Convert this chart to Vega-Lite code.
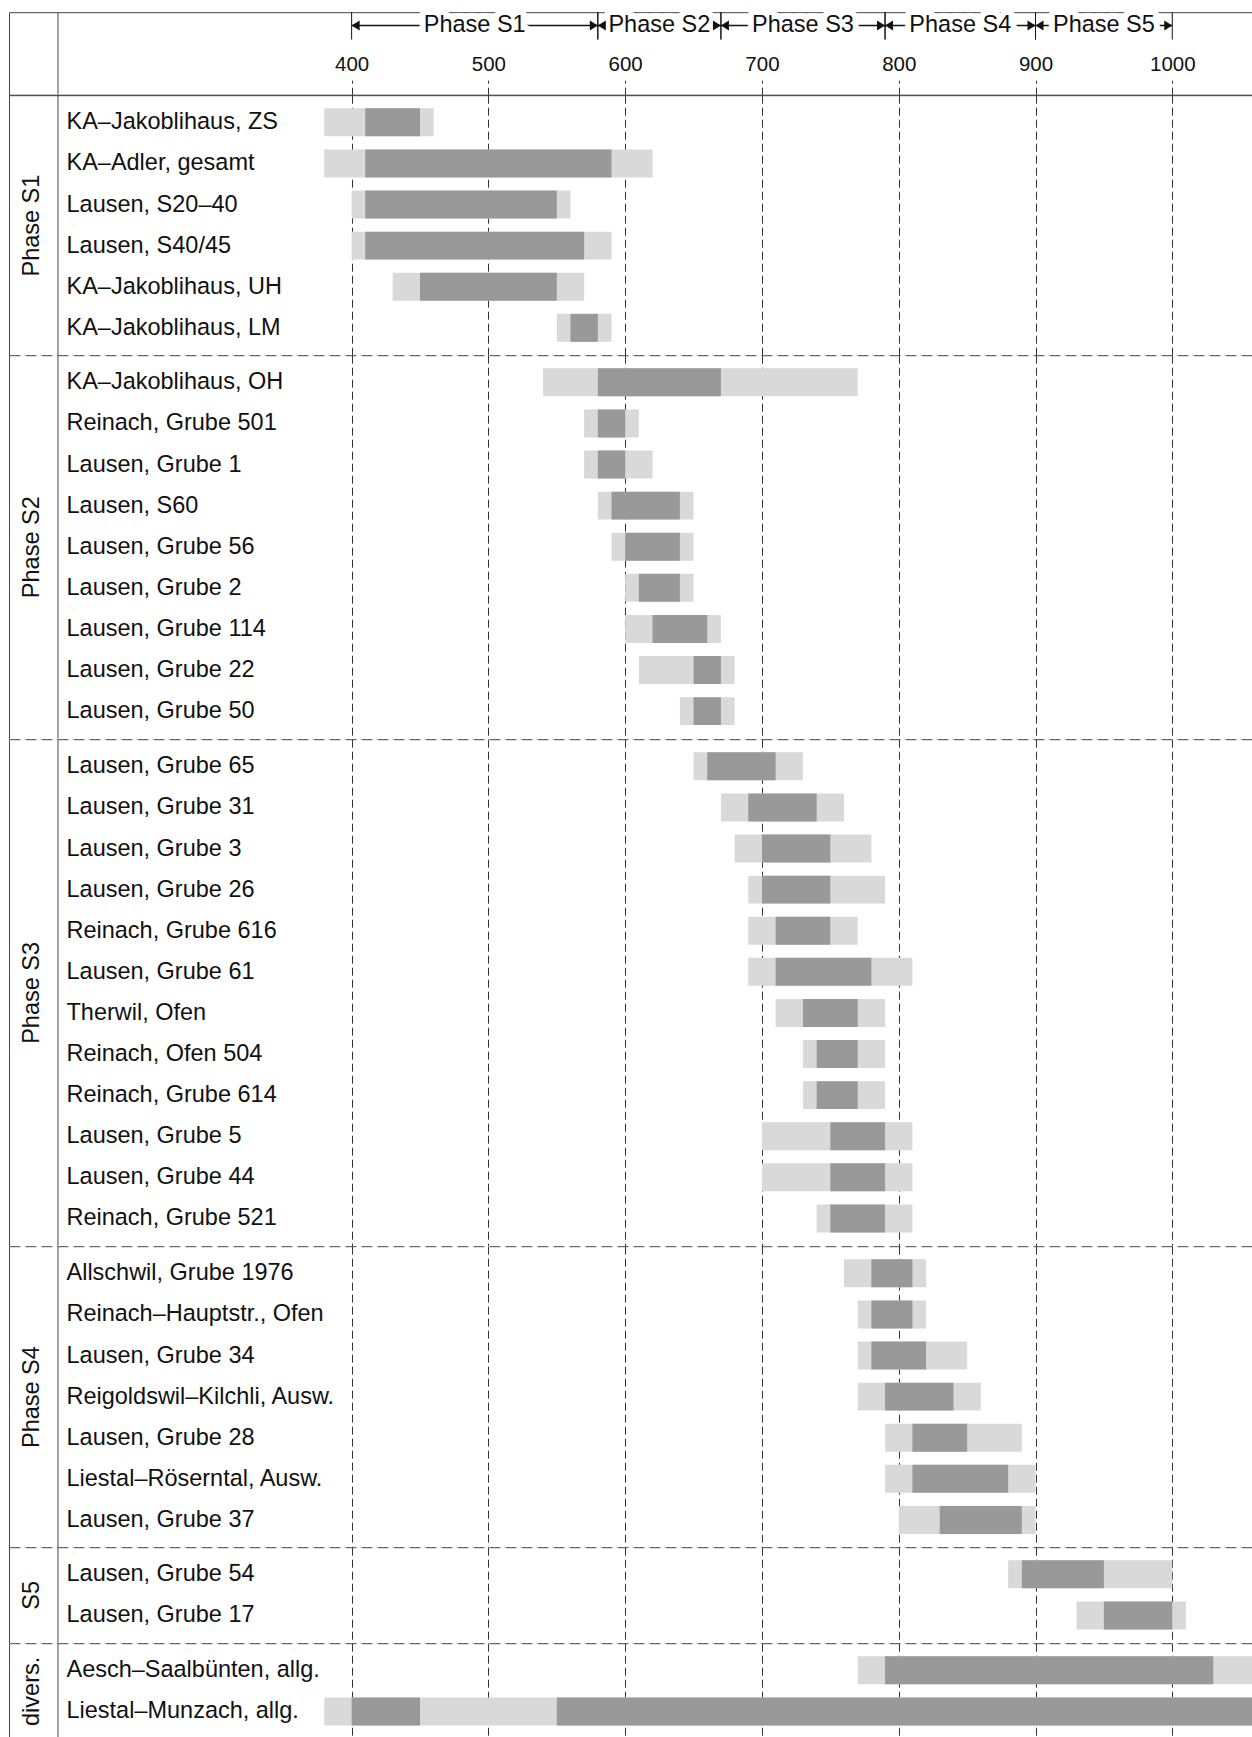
{
  "$schema": "https://vega.github.io/schema/vega-lite/v6.json",
  "padding": {"left": 8, "top": 11.2, "right": 0, "bottom": 0},
  "background": "white",
  "spacing": 0,
  "bounds": "flush",
  "resolve": {"scale": {"x": "independent", "y": "independent"}},
  "config": {"font": "Liberation Sans", "view": {"stroke": null}},
  "datasets": {
    "phases": [
      {"phase": "Phase S1", "start": 400, "end": 580},
      {"phase": "Phase S2", "start": 580, "end": 670},
      {"phase": "Phase S3", "start": 670, "end": 790},
      {"phase": "Phase S4", "start": 790, "end": 900},
      {"phase": "Phase S5", "start": 900, "end": 1000}
    ],
    "bars": [
      {"group": "Phase S1", "site": "KA–Jakoblihaus, ZS", "tone": "light", "start": 380, "end": 460},
      {"group": "Phase S1", "site": "KA–Jakoblihaus, ZS", "tone": "dark", "start": 410, "end": 450},
      {"group": "Phase S1", "site": "KA–Adler, gesamt", "tone": "light", "start": 380, "end": 620},
      {"group": "Phase S1", "site": "KA–Adler, gesamt", "tone": "dark", "start": 410, "end": 590},
      {"group": "Phase S1", "site": "Lausen, S20–40", "tone": "light", "start": 400, "end": 560},
      {"group": "Phase S1", "site": "Lausen, S20–40", "tone": "dark", "start": 410, "end": 550},
      {"group": "Phase S1", "site": "Lausen, S40/45", "tone": "light", "start": 400, "end": 590},
      {"group": "Phase S1", "site": "Lausen, S40/45", "tone": "dark", "start": 410, "end": 570},
      {"group": "Phase S1", "site": "KA–Jakoblihaus, UH", "tone": "light", "start": 430, "end": 570},
      {"group": "Phase S1", "site": "KA–Jakoblihaus, UH", "tone": "dark", "start": 450, "end": 550},
      {"group": "Phase S1", "site": "KA–Jakoblihaus, LM", "tone": "light", "start": 550, "end": 590},
      {"group": "Phase S1", "site": "KA–Jakoblihaus, LM", "tone": "dark", "start": 560, "end": 580},
      {"group": "Phase S2", "site": "KA–Jakoblihaus, OH", "tone": "light", "start": 540, "end": 770},
      {"group": "Phase S2", "site": "KA–Jakoblihaus, OH", "tone": "dark", "start": 580, "end": 670},
      {"group": "Phase S2", "site": "Reinach, Grube 501", "tone": "light", "start": 570, "end": 610},
      {"group": "Phase S2", "site": "Reinach, Grube 501", "tone": "dark", "start": 580, "end": 600},
      {"group": "Phase S2", "site": "Lausen, Grube 1", "tone": "light", "start": 570, "end": 620},
      {"group": "Phase S2", "site": "Lausen, Grube 1", "tone": "dark", "start": 580, "end": 600},
      {"group": "Phase S2", "site": "Lausen, S60", "tone": "light", "start": 580, "end": 650},
      {"group": "Phase S2", "site": "Lausen, S60", "tone": "dark", "start": 590, "end": 640},
      {"group": "Phase S2", "site": "Lausen, Grube 56", "tone": "light", "start": 590, "end": 650},
      {"group": "Phase S2", "site": "Lausen, Grube 56", "tone": "dark", "start": 600, "end": 640},
      {"group": "Phase S2", "site": "Lausen, Grube 2", "tone": "light", "start": 600, "end": 650},
      {"group": "Phase S2", "site": "Lausen, Grube 2", "tone": "dark", "start": 610, "end": 640},
      {"group": "Phase S2", "site": "Lausen, Grube 114", "tone": "light", "start": 600, "end": 670},
      {"group": "Phase S2", "site": "Lausen, Grube 114", "tone": "dark", "start": 620, "end": 660},
      {"group": "Phase S2", "site": "Lausen, Grube 22", "tone": "light", "start": 610, "end": 680},
      {"group": "Phase S2", "site": "Lausen, Grube 22", "tone": "dark", "start": 650, "end": 670},
      {"group": "Phase S2", "site": "Lausen, Grube 50", "tone": "light", "start": 640, "end": 680},
      {"group": "Phase S2", "site": "Lausen, Grube 50", "tone": "dark", "start": 650, "end": 670},
      {"group": "Phase S3", "site": "Lausen, Grube 65", "tone": "light", "start": 650, "end": 730},
      {"group": "Phase S3", "site": "Lausen, Grube 65", "tone": "dark", "start": 660, "end": 710},
      {"group": "Phase S3", "site": "Lausen, Grube 31", "tone": "light", "start": 670, "end": 760},
      {"group": "Phase S3", "site": "Lausen, Grube 31", "tone": "dark", "start": 690, "end": 740},
      {"group": "Phase S3", "site": "Lausen, Grube 3", "tone": "light", "start": 680, "end": 780},
      {"group": "Phase S3", "site": "Lausen, Grube 3", "tone": "dark", "start": 700, "end": 750},
      {"group": "Phase S3", "site": "Lausen, Grube 26", "tone": "light", "start": 690, "end": 790},
      {"group": "Phase S3", "site": "Lausen, Grube 26", "tone": "dark", "start": 700, "end": 750},
      {"group": "Phase S3", "site": "Reinach, Grube 616", "tone": "light", "start": 690, "end": 770},
      {"group": "Phase S3", "site": "Reinach, Grube 616", "tone": "dark", "start": 710, "end": 750},
      {"group": "Phase S3", "site": "Lausen, Grube 61", "tone": "light", "start": 690, "end": 810},
      {"group": "Phase S3", "site": "Lausen, Grube 61", "tone": "dark", "start": 710, "end": 780},
      {"group": "Phase S3", "site": "Therwil, Ofen", "tone": "light", "start": 710, "end": 790},
      {"group": "Phase S3", "site": "Therwil, Ofen", "tone": "dark", "start": 730, "end": 770},
      {"group": "Phase S3", "site": "Reinach, Ofen 504", "tone": "light", "start": 730, "end": 790},
      {"group": "Phase S3", "site": "Reinach, Ofen 504", "tone": "dark", "start": 740, "end": 770},
      {"group": "Phase S3", "site": "Reinach, Grube 614", "tone": "light", "start": 730, "end": 790},
      {"group": "Phase S3", "site": "Reinach, Grube 614", "tone": "dark", "start": 740, "end": 770},
      {"group": "Phase S3", "site": "Lausen, Grube 5", "tone": "light", "start": 700, "end": 810},
      {"group": "Phase S3", "site": "Lausen, Grube 5", "tone": "dark", "start": 750, "end": 790},
      {"group": "Phase S3", "site": "Lausen, Grube 44", "tone": "light", "start": 700, "end": 810},
      {"group": "Phase S3", "site": "Lausen, Grube 44", "tone": "dark", "start": 750, "end": 790},
      {"group": "Phase S3", "site": "Reinach, Grube 521", "tone": "light", "start": 740, "end": 810},
      {"group": "Phase S3", "site": "Reinach, Grube 521", "tone": "dark", "start": 750, "end": 790},
      {"group": "Phase S4", "site": "Allschwil, Grube 1976", "tone": "light", "start": 760, "end": 820},
      {"group": "Phase S4", "site": "Allschwil, Grube 1976", "tone": "dark", "start": 780, "end": 810},
      {"group": "Phase S4", "site": "Reinach–Hauptstr., Ofen", "tone": "light", "start": 770, "end": 820},
      {"group": "Phase S4", "site": "Reinach–Hauptstr., Ofen", "tone": "dark", "start": 780, "end": 810},
      {"group": "Phase S4", "site": "Lausen, Grube 34", "tone": "light", "start": 770, "end": 850},
      {"group": "Phase S4", "site": "Lausen, Grube 34", "tone": "dark", "start": 780, "end": 820},
      {"group": "Phase S4", "site": "Reigoldswil–Kilchli, Ausw.", "tone": "light", "start": 770, "end": 860},
      {"group": "Phase S4", "site": "Reigoldswil–Kilchli, Ausw.", "tone": "dark", "start": 790, "end": 840},
      {"group": "Phase S4", "site": "Lausen, Grube 28", "tone": "light", "start": 790, "end": 890},
      {"group": "Phase S4", "site": "Lausen, Grube 28", "tone": "dark", "start": 810, "end": 850},
      {"group": "Phase S4", "site": "Liestal–Röserntal, Ausw.", "tone": "light", "start": 790, "end": 900},
      {"group": "Phase S4", "site": "Liestal–Röserntal, Ausw.", "tone": "dark", "start": 810, "end": 880},
      {"group": "Phase S4", "site": "Lausen, Grube 37", "tone": "light", "start": 800, "end": 900},
      {"group": "Phase S4", "site": "Lausen, Grube 37", "tone": "dark", "start": 830, "end": 890},
      {"group": "S5", "site": "Lausen, Grube 54", "tone": "light", "start": 880, "end": 1000},
      {"group": "S5", "site": "Lausen, Grube 54", "tone": "dark", "start": 890, "end": 950},
      {"group": "S5", "site": "Lausen, Grube 17", "tone": "light", "start": 930, "end": 1010},
      {"group": "S5", "site": "Lausen, Grube 17", "tone": "dark", "start": 950, "end": 1000},
      {"group": "divers.", "site": "Aesch–Saalbünten, allg.", "tone": "light", "start": 770, "end": 1070},
      {"group": "divers.", "site": "Aesch–Saalbünten, allg.", "tone": "dark", "start": 790, "end": 1030},
      {"group": "divers.", "site": "Liestal–Munzach, allg.", "tone": "light", "start": 380, "end": 1070},
      {"group": "divers.", "site": "Liestal–Munzach, allg.", "tone": "dark", "start": 400, "end": 450},
      {"group": "divers.", "site": "Liestal–Munzach, allg.", "tone": "dark", "start": 550, "end": 1070}
    ]
  },
  "vconcat": [
    {
      "width": 1250,
      "height": 82.5,
      "view": {"stroke": "#444", "strokeWidth": 1},
      "data": {"name": "phases"},
      "layer": [
        {
          "data": {"values": [{}]},
          "mark": {"type": "rule", "color": "#444"},
          "encoding": {"x": {"datum": 185.3, "type": "quantitative", "scale": {"domain": [149.5, 1063.4], "nice": false, "zero": false}, "axis": null}}
        },
        {
          "mark": {"type": "rule", "color": "#111", "strokeWidth": 1.4},
          "encoding": {
            "x": {"field": "start", "type": "quantitative"},
            "x2": {"field": "end"},
            "y": {"datum": 0.839, "type": "quantitative", "scale": {"domain": [0, 1], "nice": false, "zero": false}, "axis": null}
          }
        },
        {
          "transform": [{"fold": ["start", "end"], "as": ["k", "yr"]}],
          "mark": {"type": "text", "fontSize": 23.5, "fill": "white", "stroke": "white", "strokeWidth": 12, "strokeJoin": "round", "baseline": "middle", "align": "center"},
          "encoding": {
            "x": {"aggregate": "mean", "field": "yr", "type": "quantitative"},
            "y": {"datum": 0.839, "type": "quantitative"},
            "text": {"field": "phase"}
          }
        },
        {
          "transform": [{"fold": ["start", "end"], "as": ["k", "yr"]}],
          "mark": {"type": "text", "fontSize": 23.5, "fill": "#111", "baseline": "middle", "align": "center"},
          "encoding": {
            "x": {"aggregate": "mean", "field": "yr", "type": "quantitative"},
            "y": {"datum": 0.839, "type": "quantitative"},
            "text": {"field": "phase"}
          }
        },
        {
          "mark": {"type": "point", "shape": "M0,0L2,-1.25L2,1.25Z", "size": 64, "filled": true, "color": "#111", "opacity": 1, "strokeWidth": 0},
          "encoding": {
            "x": {"field": "start", "type": "quantitative"},
            "y": {"datum": 0.839, "type": "quantitative"}
          }
        },
        {
          "mark": {"type": "point", "shape": "M0,0L-2,-1.25L-2,1.25Z", "size": 64, "filled": true, "color": "#111", "opacity": 1, "strokeWidth": 0},
          "encoding": {
            "x": {"field": "end", "type": "quantitative"},
            "y": {"datum": 0.839, "type": "quantitative"}
          }
        },
        {
          "transform": [{"fold": ["start", "end"], "as": ["k", "yr"]}],
          "mark": {"type": "rule", "color": "#111"},
          "encoding": {
            "x": {"field": "yr", "type": "quantitative"},
            "y": {"datum": 1, "type": "quantitative"},
            "y2": {"datum": 0.669}
          }
        }
      ]
    },
    {
      "width": 1250,
      "height": {"step": 41.1},
      "layer": [
        {
          "data": {"name": "bars"},
          "transform": [{"filter": "datum.group === 'Phase S1'"}],
          "mark": {"type": "bar", "clip": true},
          "encoding": {
            "y": {"field": "site", "type": "nominal", "sort": null, "scale": {"paddingInner": 0.32, "paddingOuter": 0.32},
              "axis": {"title": "Phase S1", "titleX": 22, "titleBaseline": "middle", "titleFontSize": 23.5, "titleFontWeight": "normal", "titleColor": "#111", "domain": true, "domainColor": "#444", "ticks": false, "tickSize": 0, "labelAlign": "left", "labelPadding": -57, "labelFontSize": 23.5, "labelLimit": 600, "labelColor": "#111", "grid": false}},
            "x": {"field": "start", "type": "quantitative", "scale": {"domain": [149.5, 1063.4], "nice": false, "zero": false},
              "axis": {"orient": "top", "title": null, "values": [400, 500, 600, 700, 800, 900, 1000], "format": "d", "labelFontSize": 20.5, "labelColor": "#111", "labelPadding": 6, "ticks": true, "tickSize": 15, "tickDash": [8, 4], "tickColor": "#333", "domain": true, "domainColor": "#444", "grid": true, "gridDash": [8, 4], "gridColor": "#333"}},
            "x2": {"field": "end"},
            "color": {"field": "tone", "type": "nominal", "scale": {"domain": ["light", "dark"], "range": ["#d9d9d9", "#999999"]}, "legend": null}
          }
        },
        {
          "data": {"values": [{}]},
          "mark": {"type": "rule", "color": "#444"},
          "encoding": {"x": {"datum": 185.3, "type": "quantitative"}}
        }
      ]
    },
    {
      "width": 1250,
      "height": {"step": 41.1},
      "layer": [
        {
          "data": {"name": "bars"},
          "transform": [{"filter": "datum.group === 'Phase S2'"}],
          "mark": {"type": "bar", "clip": true},
          "encoding": {
            "y": {"field": "site", "type": "nominal", "sort": null, "scale": {"paddingInner": 0.32, "paddingOuter": 0.32},
              "axis": {"title": "Phase S2", "titleX": 22, "titleBaseline": "middle", "titleFontSize": 23.5, "titleFontWeight": "normal", "titleColor": "#111", "domain": true, "domainColor": "#444", "ticks": false, "tickSize": 0, "labelAlign": "left", "labelPadding": -57, "labelFontSize": 23.5, "labelLimit": 600, "labelColor": "#111", "grid": false}},
            "x": {"field": "start", "type": "quantitative", "scale": {"domain": [149.5, 1063.4], "nice": false, "zero": false},
              "axis": {"orient": "top", "title": null, "values": [400, 500, 600, 700, 800, 900, 1000], "labels": false, "ticks": false, "domain": true, "domainDash": [11, 5], "domainColor": "#444", "grid": true, "gridDash": [8, 4], "gridColor": "#333"}},
            "x2": {"field": "end"},
            "color": {"field": "tone", "type": "nominal", "scale": {"domain": ["light", "dark"], "range": ["#d9d9d9", "#999999"]}, "legend": null}
          }
        },
        {
          "data": {"values": [{}]},
          "mark": {"type": "rule", "color": "#444"},
          "encoding": {"x": {"datum": 185.3, "type": "quantitative"}}
        }
      ]
    },
    {
      "width": 1250,
      "height": {"step": 41.1},
      "layer": [
        {
          "data": {"name": "bars"},
          "transform": [{"filter": "datum.group === 'Phase S3'"}],
          "mark": {"type": "bar", "clip": true},
          "encoding": {
            "y": {"field": "site", "type": "nominal", "sort": null, "scale": {"paddingInner": 0.32, "paddingOuter": 0.32},
              "axis": {"title": "Phase S3", "titleX": 22, "titleBaseline": "middle", "titleFontSize": 23.5, "titleFontWeight": "normal", "titleColor": "#111", "domain": true, "domainColor": "#444", "ticks": false, "tickSize": 0, "labelAlign": "left", "labelPadding": -57, "labelFontSize": 23.5, "labelLimit": 600, "labelColor": "#111", "grid": false}},
            "x": {"field": "start", "type": "quantitative", "scale": {"domain": [149.5, 1063.4], "nice": false, "zero": false},
              "axis": {"orient": "top", "title": null, "values": [400, 500, 600, 700, 800, 900, 1000], "labels": false, "ticks": false, "domain": true, "domainDash": [11, 5], "domainColor": "#444", "grid": true, "gridDash": [8, 4], "gridColor": "#333"}},
            "x2": {"field": "end"},
            "color": {"field": "tone", "type": "nominal", "scale": {"domain": ["light", "dark"], "range": ["#d9d9d9", "#999999"]}, "legend": null}
          }
        },
        {
          "data": {"values": [{}]},
          "mark": {"type": "rule", "color": "#444"},
          "encoding": {"x": {"datum": 185.3, "type": "quantitative"}}
        }
      ]
    },
    {
      "width": 1250,
      "height": {"step": 41.1},
      "layer": [
        {
          "data": {"name": "bars"},
          "transform": [{"filter": "datum.group === 'Phase S4'"}],
          "mark": {"type": "bar", "clip": true},
          "encoding": {
            "y": {"field": "site", "type": "nominal", "sort": null, "scale": {"paddingInner": 0.32, "paddingOuter": 0.32},
              "axis": {"title": "Phase S4", "titleX": 22, "titleBaseline": "middle", "titleFontSize": 23.5, "titleFontWeight": "normal", "titleColor": "#111", "domain": true, "domainColor": "#444", "ticks": false, "tickSize": 0, "labelAlign": "left", "labelPadding": -57, "labelFontSize": 23.5, "labelLimit": 600, "labelColor": "#111", "grid": false}},
            "x": {"field": "start", "type": "quantitative", "scale": {"domain": [149.5, 1063.4], "nice": false, "zero": false},
              "axis": {"orient": "top", "title": null, "values": [400, 500, 600, 700, 800, 900, 1000], "labels": false, "ticks": false, "domain": true, "domainDash": [11, 5], "domainColor": "#444", "grid": true, "gridDash": [8, 4], "gridColor": "#333"}},
            "x2": {"field": "end"},
            "color": {"field": "tone", "type": "nominal", "scale": {"domain": ["light", "dark"], "range": ["#d9d9d9", "#999999"]}, "legend": null}
          }
        },
        {
          "data": {"values": [{}]},
          "mark": {"type": "rule", "color": "#444"},
          "encoding": {"x": {"datum": 185.3, "type": "quantitative"}}
        }
      ]
    },
    {
      "width": 1250,
      "height": {"step": 41.1},
      "layer": [
        {
          "data": {"name": "bars"},
          "transform": [{"filter": "datum.group === 'S5'"}],
          "mark": {"type": "bar", "clip": true},
          "encoding": {
            "y": {"field": "site", "type": "nominal", "sort": null, "scale": {"paddingInner": 0.32, "paddingOuter": 0.32},
              "axis": {"title": "S5", "titleX": 22, "titleBaseline": "middle", "titleFontSize": 23.5, "titleFontWeight": "normal", "titleColor": "#111", "domain": true, "domainColor": "#444", "ticks": false, "tickSize": 0, "labelAlign": "left", "labelPadding": -57, "labelFontSize": 23.5, "labelLimit": 600, "labelColor": "#111", "grid": false}},
            "x": {"field": "start", "type": "quantitative", "scale": {"domain": [149.5, 1063.4], "nice": false, "zero": false},
              "axis": {"orient": "top", "title": null, "values": [400, 500, 600, 700, 800, 900, 1000], "labels": false, "ticks": false, "domain": true, "domainDash": [11, 5], "domainColor": "#444", "grid": true, "gridDash": [8, 4], "gridColor": "#333"}},
            "x2": {"field": "end"},
            "color": {"field": "tone", "type": "nominal", "scale": {"domain": ["light", "dark"], "range": ["#d9d9d9", "#999999"]}, "legend": null}
          }
        },
        {
          "data": {"values": [{}]},
          "mark": {"type": "rule", "color": "#444"},
          "encoding": {"x": {"datum": 185.3, "type": "quantitative"}}
        }
      ]
    },
    {
      "width": 1250,
      "height": {"step": 41.1},
      "layer": [
        {
          "data": {"name": "bars"},
          "transform": [{"filter": "datum.group === 'divers.'"}],
          "mark": {"type": "bar", "clip": true},
          "encoding": {
            "y": {"field": "site", "type": "nominal", "sort": null, "scale": {"paddingInner": 0.32, "paddingOuter": 0.32},
              "axis": {"title": "divers.", "titleX": 22, "titleBaseline": "middle", "titleFontSize": 23.5, "titleFontWeight": "normal", "titleColor": "#111", "domain": true, "domainColor": "#444", "ticks": false, "tickSize": 0, "labelAlign": "left", "labelPadding": -57, "labelFontSize": 23.5, "labelLimit": 600, "labelColor": "#111", "grid": false}},
            "x": {"field": "start", "type": "quantitative", "scale": {"domain": [149.5, 1063.4], "nice": false, "zero": false},
              "axis": {"orient": "top", "title": null, "values": [400, 500, 600, 700, 800, 900, 1000], "labels": false, "ticks": false, "domain": true, "domainDash": [11, 5], "domainColor": "#444", "grid": true, "gridDash": [8, 4], "gridColor": "#333"}},
            "x2": {"field": "end"},
            "color": {"field": "tone", "type": "nominal", "scale": {"domain": ["light", "dark"], "range": ["#d9d9d9", "#999999"]}, "legend": null}
          }
        },
        {
          "data": {"values": [{}]},
          "mark": {"type": "rule", "color": "#444"},
          "encoding": {"x": {"datum": 185.3, "type": "quantitative"}}
        }
      ]
    }
  ]
}
